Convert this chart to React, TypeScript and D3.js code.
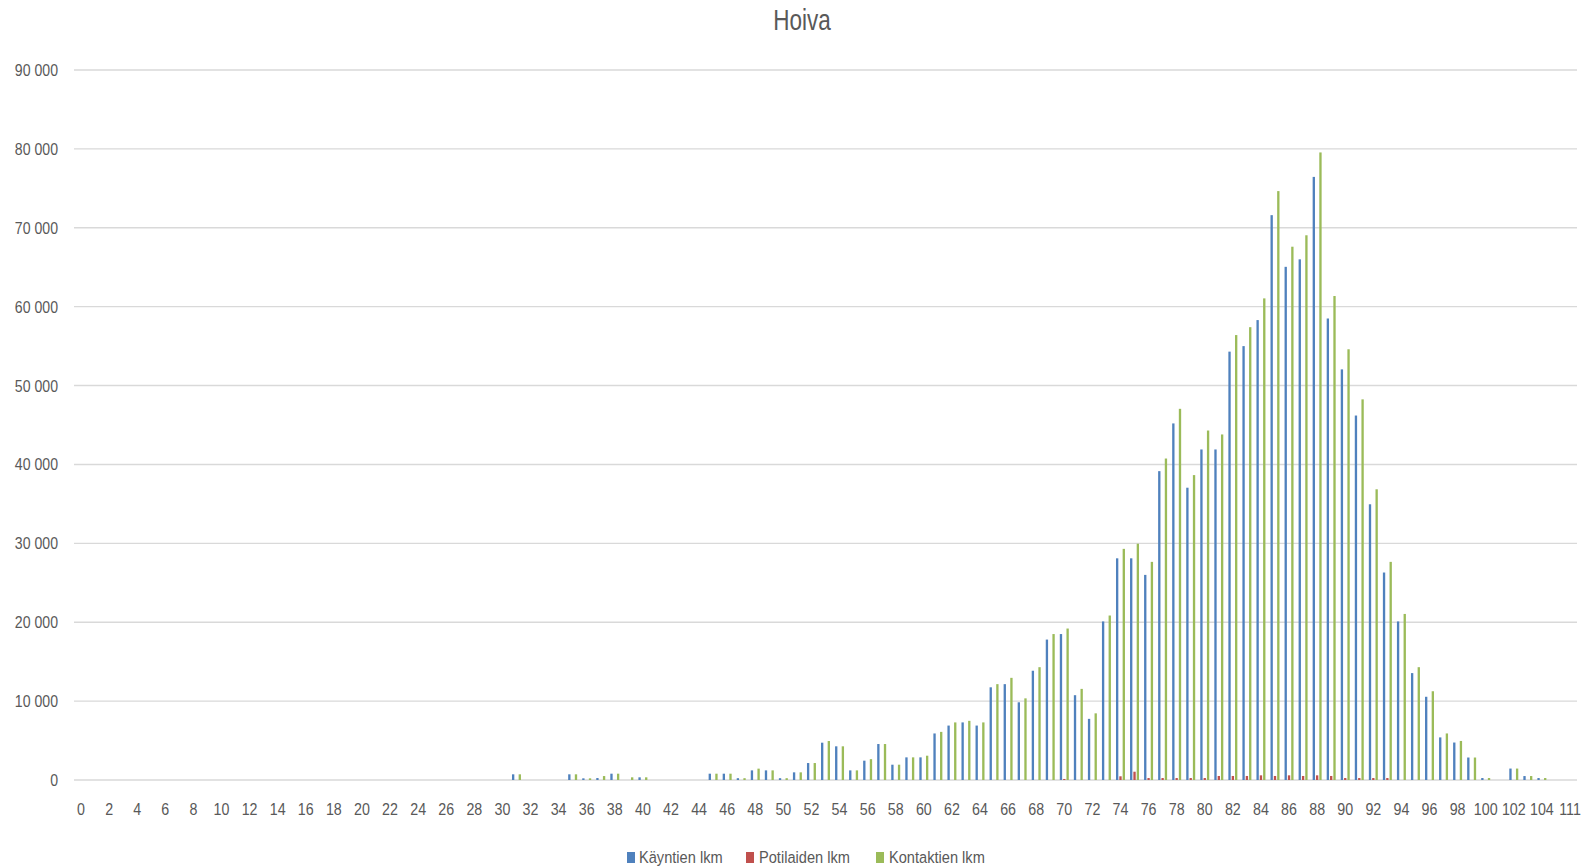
import React from "react";
import * as d3 from "d3";

// Age groups (years) on the category axis
const ages: number[] = [
  0, 1, 2, 3, 4, 5, 6, 7, 8, 9, 10, 11, 12, 13, 14, 15, 16, 17, 18, 19,
  20, 21, 22, 23, 24, 25, 26, 27, 28, 29, 30, 31, 32, 33, 34, 35, 36, 37, 38, 39,
  40, 41, 42, 43, 44, 45, 46, 47, 48, 49, 50, 51, 52, 53, 54, 55, 56, 57, 58, 59,
  60, 61, 62, 63, 64, 65, 66, 67, 68, 69, 70, 71, 72, 73, 74, 75, 76, 77, 78, 79,
  80, 81, 82, 83, 84, 85, 86, 87, 88, 89, 90, 91, 92, 93, 94, 95, 96, 97, 98, 99,
  100, 101, 102, 103, 104, 105, 111,
];

// Käyntien lkm (visits)
const kaynnit: number[] = [
  0, 0, 0, 0, 0, 0, 0, 0, 0, 0, 0, 0, 0, 0, 0, 0, 0, 0, 0, 0,
  0, 0, 0, 0, 0, 0, 0, 0, 0, 0, 0, 720, 0, 0, 0, 720, 210, 250, 800, 0,
  340, 0, 0, 0, 0, 800, 800, 230, 1220, 1220, 230, 970, 2150, 4730, 4270, 1220, 2450, 4560, 1940, 2870,
  2870, 5900, 6900, 7300, 6900, 11750, 12150, 9850, 13850, 17800, 18500, 10750, 7750, 20100, 28100, 28100, 26000, 39150, 45200, 37050,
  41900, 41900, 54300, 55000, 58300, 71600, 65050, 66000, 76450, 58500, 52050, 46200, 34950, 26300, 20100, 13550, 10550, 5400, 4750, 2850,
  250, 0, 1450, 500, 250, 0, 0,
];

// Potilaiden lkm (patients)
const potilaat: number[] = [
  0, 0, 0, 0, 0, 0, 0, 0, 0, 0, 0, 0, 0, 0, 0, 0, 0, 0, 0, 0,
  0, 0, 0, 0, 0, 0, 0, 0, 0, 0, 0, 0, 0, 0, 0, 0, 0, 0, 0, 0,
  0, 0, 0, 0, 0, 0, 0, 0, 0, 0, 0, 0, 0, 0, 0, 0, 0, 0, 0, 0,
  0, 0, 0, 0, 0, 0, 0, 0, 0, 0, 130, 0, 0, 0, 470, 1050, 250, 250, 250, 250,
  250, 510, 510, 510, 590, 510, 590, 510, 590, 510, 250, 250, 250, 250, 0, 0, 0, 0, 0, 0,
  0, 0, 0, 0, 0, 0, 0,
];

// Kontaktien lkm (contacts)
const kontaktit: number[] = [
  0, 0, 0, 0, 0, 0, 0, 0, 0, 0, 0, 0, 0, 0, 0, 0, 0, 0, 0, 0,
  0, 0, 0, 0, 0, 0, 0, 0, 0, 0, 0, 720, 0, 0, 0, 720, 210, 500, 800, 340,
  340, 0, 0, 0, 0, 800, 800, 230, 1440, 1220, 230, 970, 2150, 4940, 4270, 1220, 2640, 4560, 1940, 2870,
  3080, 6100, 7300, 7500, 7300, 12150, 12950, 10350, 14300, 18500, 19200, 11550, 8450, 20850, 29300, 29950, 27650, 40750, 47050, 38650,
  44300, 43800, 56400, 57400, 61050, 74650, 67600, 69050, 79550, 61350, 54600, 48250, 36850, 27650, 21050, 14300, 11250, 5900, 4950, 2850,
  250, 0, 1450, 500, 250, 0, 0,
];

const seriesNames: string[] = ["Käyntien lkm", "Potilaiden lkm", "Kontaktien lkm"];
const seriesColors: string[] = ["#4F81BD", "#C0504D", "#9BBB59"];
const yTicks: number[] = [0, 10000, 20000, 30000, 40000, 50000, 60000, 70000, 80000, 90000];

const W = 1590;
const H = 868;
const plot = { left: 74, right: 1577, top: 70, bottom: 780 };
const FONT = "'Liberation Sans', Arial, sans-serif";
const TEXT = "#595959";

const fiLocale = d3.formatLocale({
  decimal: ",",
  thousands: " ",
  grouping: [3],
  currency: ["", " €"],
});
const fmt = fiLocale.format(",d");

// Horizontally condensed text label
function Label(props: {
  x: number;
  y: number;
  size: number;
  squeeze: number;
  anchor?: "start" | "middle" | "end";
  children: React.ReactNode;
}) {
  const { x, y, size, squeeze, anchor = "start", children } = props;
  return (
    <text
      transform={`translate(${x},${y}) scale(${squeeze},1)`}
      dy="0.35em"
      textAnchor={anchor}
      fontSize={size}
      fill={TEXT}
    >
      {children}
    </text>
  );
}

export default function App() {
  const series = [kaynnit, potilaat, kontaktit];
  const keys = ages.map(String);

  const x = d3
    .scaleBand<string>()
    .domain(keys)
    .range([plot.left, plot.right])
    .paddingInner(0.29)
    .paddingOuter(0.145);

  const xs = d3
    .scaleBand<number>()
    .domain([0, 1, 2])
    .range([0, x.bandwidth()])
    .paddingInner(0.3)
    .paddingOuter(0.15);

  const y = d3.scaleLinear().domain([0, 90000]).range([plot.bottom, plot.top]);

  const legendItems = [
    { sx: 627, tx: 639 },
    { sx: 746, tx: 759 },
    { sx: 876, tx: 889 },
  ];

  return (
    <svg
      width={W}
      height={H}
      style={{ position: "absolute", left: 0, top: 0, background: "#fff" }}
      fontFamily={FONT}
    >
      <Label x={802} y={19} size={30} squeeze={0.75} anchor="middle">
        Hoiva
      </Label>

      {/* gridlines and value axis labels */}
      {yTicks.map((t) => (
        <g key={t}>
          <line
            x1={plot.left}
            x2={plot.right}
            y1={y(t)}
            y2={y(t)}
            stroke="#d9d9d9"
            strokeWidth={1.4}
          />
          <Label x={58} y={y(t)} size={17} squeeze={0.83} anchor="end">
            {fmt(t)}
          </Label>
        </g>
      ))}

      {/* bars */}
      {series.map((vals, si) => (
        <g key={si} fill={seriesColors[si]}>
          {vals.map((v, i) =>
            v > 0 ? (
              <rect
                key={i}
                x={(x(keys[i]) as number) + (xs(si) as number)}
                y={y(v)}
                width={xs.bandwidth()}
                height={y(0) - y(v)}
              />
            ) : null
          )}
        </g>
      ))}

      {/* category axis labels, every second one */}
      {keys.map((k, i) =>
        i % 2 === 0 ? (
          <Label
            key={k}
            x={(x(k) as number) + x.bandwidth() / 2}
            y={809}
            size={17}
            squeeze={0.84}
            anchor="middle"
          >
            {k}
          </Label>
        ) : null
      )}

      {/* legend */}
      {seriesNames.map((name, i) => (
        <g key={name}>
          <rect x={legendItems[i].sx} y={852} width={8} height={11} fill={seriesColors[i]} />
          <Label x={legendItems[i].tx} y={857.5} size={17} squeeze={0.86}>
            {name}
          </Label>
        </g>
      ))}
    </svg>
  );
}
